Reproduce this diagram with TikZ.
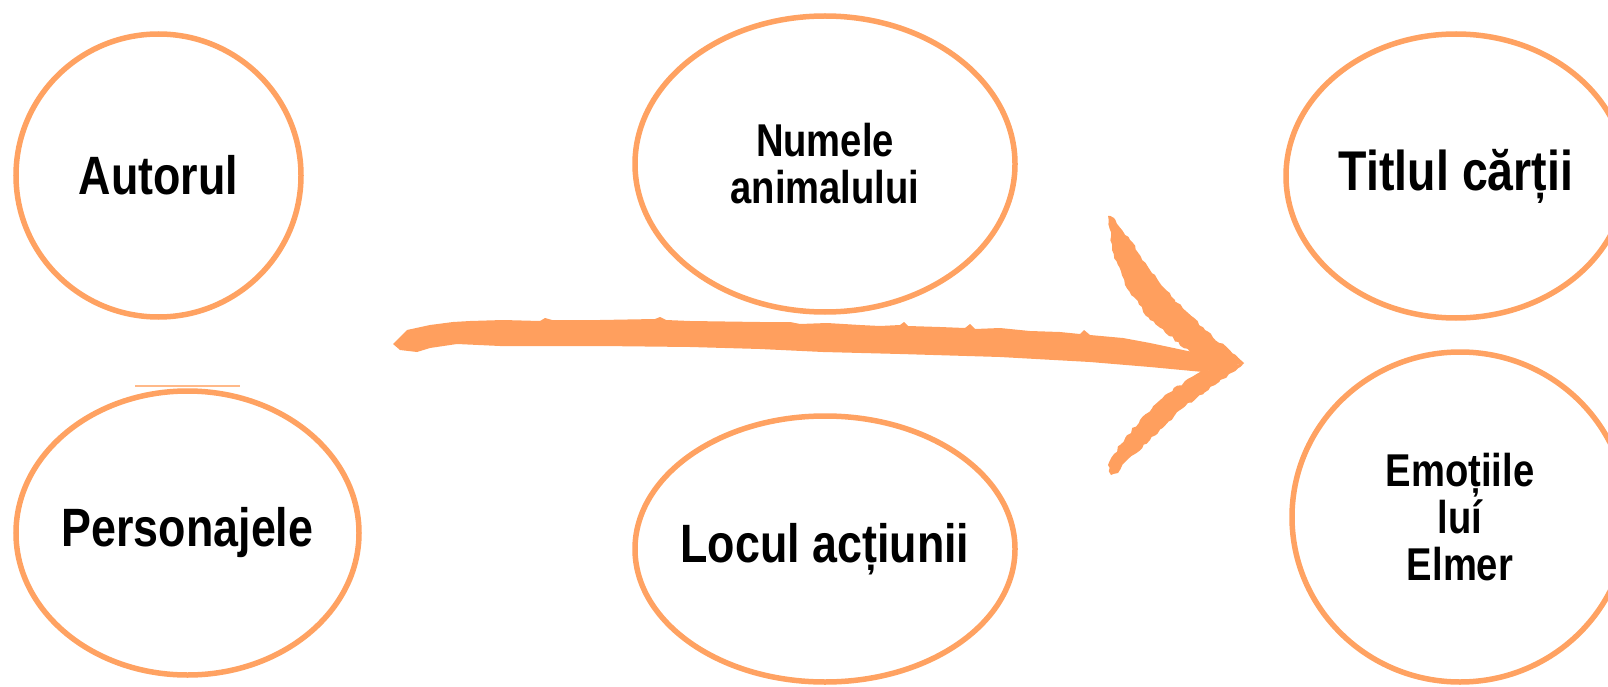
\documentclass[tikz,border=0pt]{standalone}
\usepackage{fontspec}
\setmainfont[FakeStretch=0.83]{Liberation Sans}
\usetikzlibrary{shapes.geometric,decorations.pathmorphing}
\definecolor{brush}{HTML}{FF9F5E}
\definecolor{edge}{HTML}{FFA262}
\tikzset{
  bubble/.style={ellipse, draw=edge, line width=5.5pt, inner xsep=-70pt, inner ysep=0pt,
    align=center, text=black, font=\bfseries\fontsize{54}{56}\selectfont},
  smallbubble/.style={bubble, font=\bfseries\fontsize{46}{47}\selectfont},
  brushfill/.style={fill=brush, draw=none},
  rough/.style={decorate, decoration={random steps, segment length=4pt, amplitude=1.2pt}}
}
\begin{document}
\begin{tikzpicture}[x=1pt,y=-1pt]
\pgfmathsetseed{7}
\useasboundingbox (0,0) rectangle (1608,687);
\clip (0,0) rectangle (1608,687);
% ellipses
\node[bubble, minimum width=285pt, minimum height=283pt] (autor) at (158.5,175.5) {Autorul};
\node[bubble, minimum width=343pt, minimum height=284pt] (pers) at (187.5,533) {Personajele};
\node[smallbubble, minimum width=380pt, minimum height=296pt] (nume) at (825,164) {Numele\\animalului};
\node[bubble, minimum width=380pt, minimum height=266pt] (loc) at (825,549) {Locul acțiunii};
\node[bubble, minimum width=340pt, minimum height=284pt, font=\bfseries\fontsize{56}{58}\selectfont] (titlu) at (1456,176) {Titlul cărții};
\node[smallbubble, minimum width=336pt, minimum height=330pt] (emo) at (1460,517) {Emoțiile\\luí\\Elmer};
% thin line above Personajele
\coordinate (la) at (135,386);
\coordinate (lb) at (240,386);
\draw[edge!75, line width=2pt] (la) -- (lb);
% brushed arrow shaft
\coordinate (tip) at (1244,363);
\fill[brushfill] (393,344) -- (407,330) -- (430,325) -- (453,322) -- (470,321)
  -- (503,320) -- (540,321) -- (545,318) -- (552,320) -- (600,320) -- (655,319) -- (660,317) -- (666,320)
  -- (690,321) -- (760,322) -- (790,322) -- (800,324) -- (827,323) -- (860,325)
  -- (880,326) -- (900,325) -- (904,322) -- (908,326) -- (940,327) -- (965,328)
  -- (970,324) -- (975,329) -- (1000,328) -- (1030,331) -- (1060,332) -- (1080,334)
  -- (1084,330) -- (1090,335) -- (1123,338) -- (1150,343) -- (1183,350) -- (tip)
  -- (1203,372) -- (1150,367) -- (1090,362) -- (1000,357) -- (900,354)
  -- (823,352) -- (760,349) -- (690,347) -- (600,346) -- (500,346)
  -- (457,344) -- (430,348) -- (417,352) -- (400,350) -- cycle;
% upper barb
\fill[brushfill, rough] (1108,216) -- (1112,250) -- (1125,285) -- (1150,320)
  -- (1190,352) -- (1215,362) -- (tip) -- (1205,330) -- (1175,300)
  -- (1150,270) -- (1130,240) -- (1114,218) -- cycle;
% lower barb
\fill[brushfill, rough] (tip) -- (1215,385) -- (1180,410) -- (1150,440)
  -- (1125,462) -- (1118,473) -- (1111,475) -- (1108,465) -- (1120,445)
  -- (1140,420) -- (1165,395) -- (1200,372) -- (1225,364) -- cycle;
\end{tikzpicture}
\end{document}
